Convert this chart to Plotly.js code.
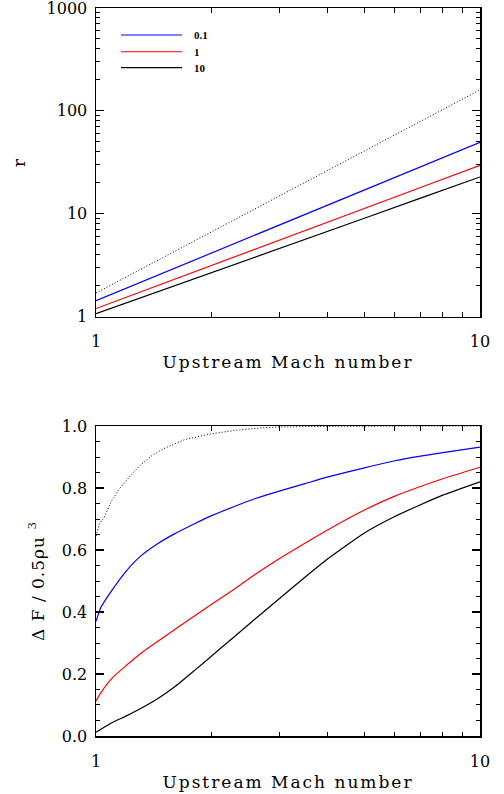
<!DOCTYPE html>
<html>
<head>
<meta charset="utf-8">
<script src="https://cdn.plot.ly/plotly-3.0.1.min.js"></script>
<style>
  html, body { margin: 0; padding: 0; background: #fff; }
  #chart { width: 504px; height: 794px; }
  .xtitle, .x2title { letter-spacing: 2px; }
  .ytitle, .y2title { letter-spacing: 1px; }
</style>
</head>
<body>
<div id="chart"></div>
<script>
// ---------- data ----------
// top panel: compression ratio r vs upstream Mach number
const machTop = [1, 2, 3, 5, 7, 10];
const rDotted = [1.70, 6.67, 14.8, 40.7, 79.2, 160];
const rBlue   = [1.43, 4.14, 7.72, 16.9, 28.5, 49.5];
const rRed    = [1.20, 3.13, 5.51, 11.2, 18.0, 29.6];
const rBlack  = [1.07, 2.67, 4.57, 9.04, 14.2, 22.8];

// bottom panel: Delta F / 0.5 rho u^3 vs upstream Mach number
const machDot = [1, 1.02, 1.05, 1.1, 1.15, 1.2, 1.3, 1.4, 1.5, 1.7, 2, 2.3, 2.7, 3, 4, 5, 7, 10];
const fDotted = [0.645, 0.685, 0.705, 0.76, 0.797, 0.825, 0.872, 0.905, 0.927, 0.956, 0.975, 0.986, 0.994, 0.997, 0.999, 1.0, 1.0, 1.0];

const machBot = [1, 1.03, 1.1, 1.2, 1.3, 1.45, 1.6, 1.8, 2, 2.3, 2.6, 3, 3.5, 4, 5, 6, 7, 8, 10];
const fBlue   = [0.37, 0.415, 0.47, 0.533, 0.578, 0.621, 0.652, 0.684, 0.711, 0.741, 0.766, 0.79, 0.814, 0.835, 0.865, 0.888, 0.903, 0.914, 0.932];
const fRed    = [0.113, 0.14, 0.186, 0.228, 0.264, 0.306, 0.343, 0.386, 0.425, 0.475, 0.522, 0.572, 0.622, 0.664, 0.729, 0.774, 0.805, 0.83, 0.867];
const fBlack  = [0.012, 0.022, 0.043, 0.065, 0.087, 0.121, 0.158, 0.21, 0.258, 0.322, 0.378, 0.443, 0.512, 0.570, 0.655, 0.708, 0.746, 0.777, 0.82];

// legend labels
const legendNames = ['0.1', '1', '10'];
const legendColors = ['#0000ff', '#ff0000', '#000000'];

// tick labels
const xTickVals = [1, 10];
const xTickText = ['1', '10'];
const xMinorVals = [2, 3, 4, 5, 6, 7, 8, 9];
const yTopTickVals = [1, 10, 100, 1000];
const yTopTickText = ['1', '10', '100', '1000'];
const yTopMinorVals = [2,3,4,5,6,7,8,9,20,30,40,50,60,70,80,90,200,300,400,500,600,700,800,900];
const yBotTickVals = [0, 0.2, 0.4, 0.6, 0.8, 1.0];
const yBotTickText = ['0.0', '0.2', '0.4', '0.6', '0.8', '1.0'];

// ---------- traces ----------
const lw = 1.2;
const dotted = {color: '#000', width: 1, dash: '1px,2px'};
const smooth = (c) => ({color: c, width: lw, shape: 'spline', smoothing: 0.5});
const traces = [
  {x: machTop, y: rDotted, xaxis: 'x', yaxis: 'y', mode: 'lines', line: dotted, showlegend: false},
  {x: machTop, y: rBlue,   xaxis: 'x', yaxis: 'y', mode: 'lines', line: {color: legendColors[0], width: lw}, name: legendNames[0], showlegend: false},
  {x: machTop, y: rRed,    xaxis: 'x', yaxis: 'y', mode: 'lines', line: {color: legendColors[1], width: lw}, name: legendNames[1], showlegend: false},
  {x: machTop, y: rBlack,  xaxis: 'x', yaxis: 'y', mode: 'lines', line: {color: legendColors[2], width: lw}, name: legendNames[2], showlegend: false},
  {x: machDot, y: fDotted, xaxis: 'x2', yaxis: 'y2', mode: 'lines', line: dotted, showlegend: false},
  {x: machBot, y: fBlue,   xaxis: 'x2', yaxis: 'y2', mode: 'lines', line: smooth(legendColors[0]), showlegend: false},
  {x: machBot, y: fRed,    xaxis: 'x2', yaxis: 'y2', mode: 'lines', line: smooth(legendColors[1]), showlegend: false},
  {x: machBot, y: fBlack,  xaxis: 'x2', yaxis: 'y2', mode: 'lines', line: smooth(legendColors[2]), showlegend: false}
];

// ---------- layout ----------
const tickFont = {family: 'DejaVu Serif', size: 16, color: '#000'};
const titleFont = {family: 'DejaVu Serif', size: 17, color: '#000'};

function baseAxis() {
  return {
    showline: true, linecolor: '#000', linewidth: 1.5, mirror: 'allticks',
    ticks: 'inside', ticklen: 8, tickwidth: 1.2, tickcolor: '#000',
    showgrid: false, zeroline: false, fixedrange: true,
    tickfont: tickFont, ticklabeloverflow: 'allow'
  };
}

const xTop = Object.assign(baseAxis(), {
  type: 'log', range: [0, 1], anchor: 'y', domain: [0, 1],
  tickmode: 'array', tickvals: xTickVals, ticktext: xTickText,
  minor: {tickmode: 'array', tickvals: xMinorVals, ticks: 'inside', ticklen: 4.5, tickwidth: 1, tickcolor: '#000'},
  ticklabelstandoff: 10,
  title: {text: 'Upstream Mach number', font: titleFont, standoff: 5}
});
const xBot = Object.assign(baseAxis(), {
  type: 'log', range: [0, 1], anchor: 'y2', domain: [0, 1],
  tickmode: 'array', tickvals: xTickVals, ticktext: xTickText,
  minor: {tickmode: 'array', tickvals: xMinorVals, ticks: 'inside', ticklen: 4.5, tickwidth: 1, tickcolor: '#000'},
  ticklabelstandoff: 10,
  title: {text: 'Upstream Mach number', font: titleFont, standoff: 6}
});
const yTop = Object.assign(baseAxis(), {
  type: 'log', range: [0, 3], anchor: 'x', domain: [0.576, 1],
  tickmode: 'array', tickvals: yTopTickVals, ticktext: yTopTickText,
  minor: {tickmode: 'array', tickvals: yTopMinorVals, ticks: 'inside', ticklen: 4, tickwidth: 1, tickcolor: '#000'},
  ticklabelstandoff: 4,
  title: {text: 'r', font: titleFont, standoff: 16}
});
const yBot = Object.assign(baseAxis(), {
  type: 'linear', range: [0, 1], anchor: 'x2', domain: [0, 0.4258],
  tickmode: 'array', tickvals: yBotTickVals, ticktext: yBotTickText,
  minor: {dtick: 0.05, ticks: 'inside', ticklen: 4, tickwidth: 1, tickcolor: '#000'},
  ticklabelstandoff: 4,
  title: {text: 'Δ F / 0.5ρu <sup>3</sup>', font: titleFont, standoff: 13}
});

// legend drawn as short line samples + labels inside the top panel
const legY = [0.9629, 0.9399, 0.918];
const shapes = legendNames.map((n, i) => ({
  type: 'line', xref: 'paper', yref: 'paper',
  x0: 0.0651, x1: 0.224, y0: legY[i], y1: legY[i],
  line: {color: legendColors[i], width: 1.2}
}));
const annotations = legendNames.map((n, i) => ({
  xref: 'paper', yref: 'paper', x: 0.25, y: legY[i],
  xanchor: 'left', yanchor: 'middle', showarrow: false,
  text: '<b>' + n + '</b>',
  font: {family: 'Liberation Serif', size: 11, color: '#000'}
}));

const layout = {
  width: 504, height: 794,
  margin: {l: 96, r: 24, t: 8, b: 58},
  paper_bgcolor: '#fff', plot_bgcolor: '#fff',
  showlegend: false,
  xaxis: xTop, yaxis: yTop, xaxis2: xBot, yaxis2: yBot,
  shapes: shapes, annotations: annotations
};

Plotly.newPlot('chart', traces, layout, {staticPlot: true, displayModeBar: false});
</script>
</body>
</html>
